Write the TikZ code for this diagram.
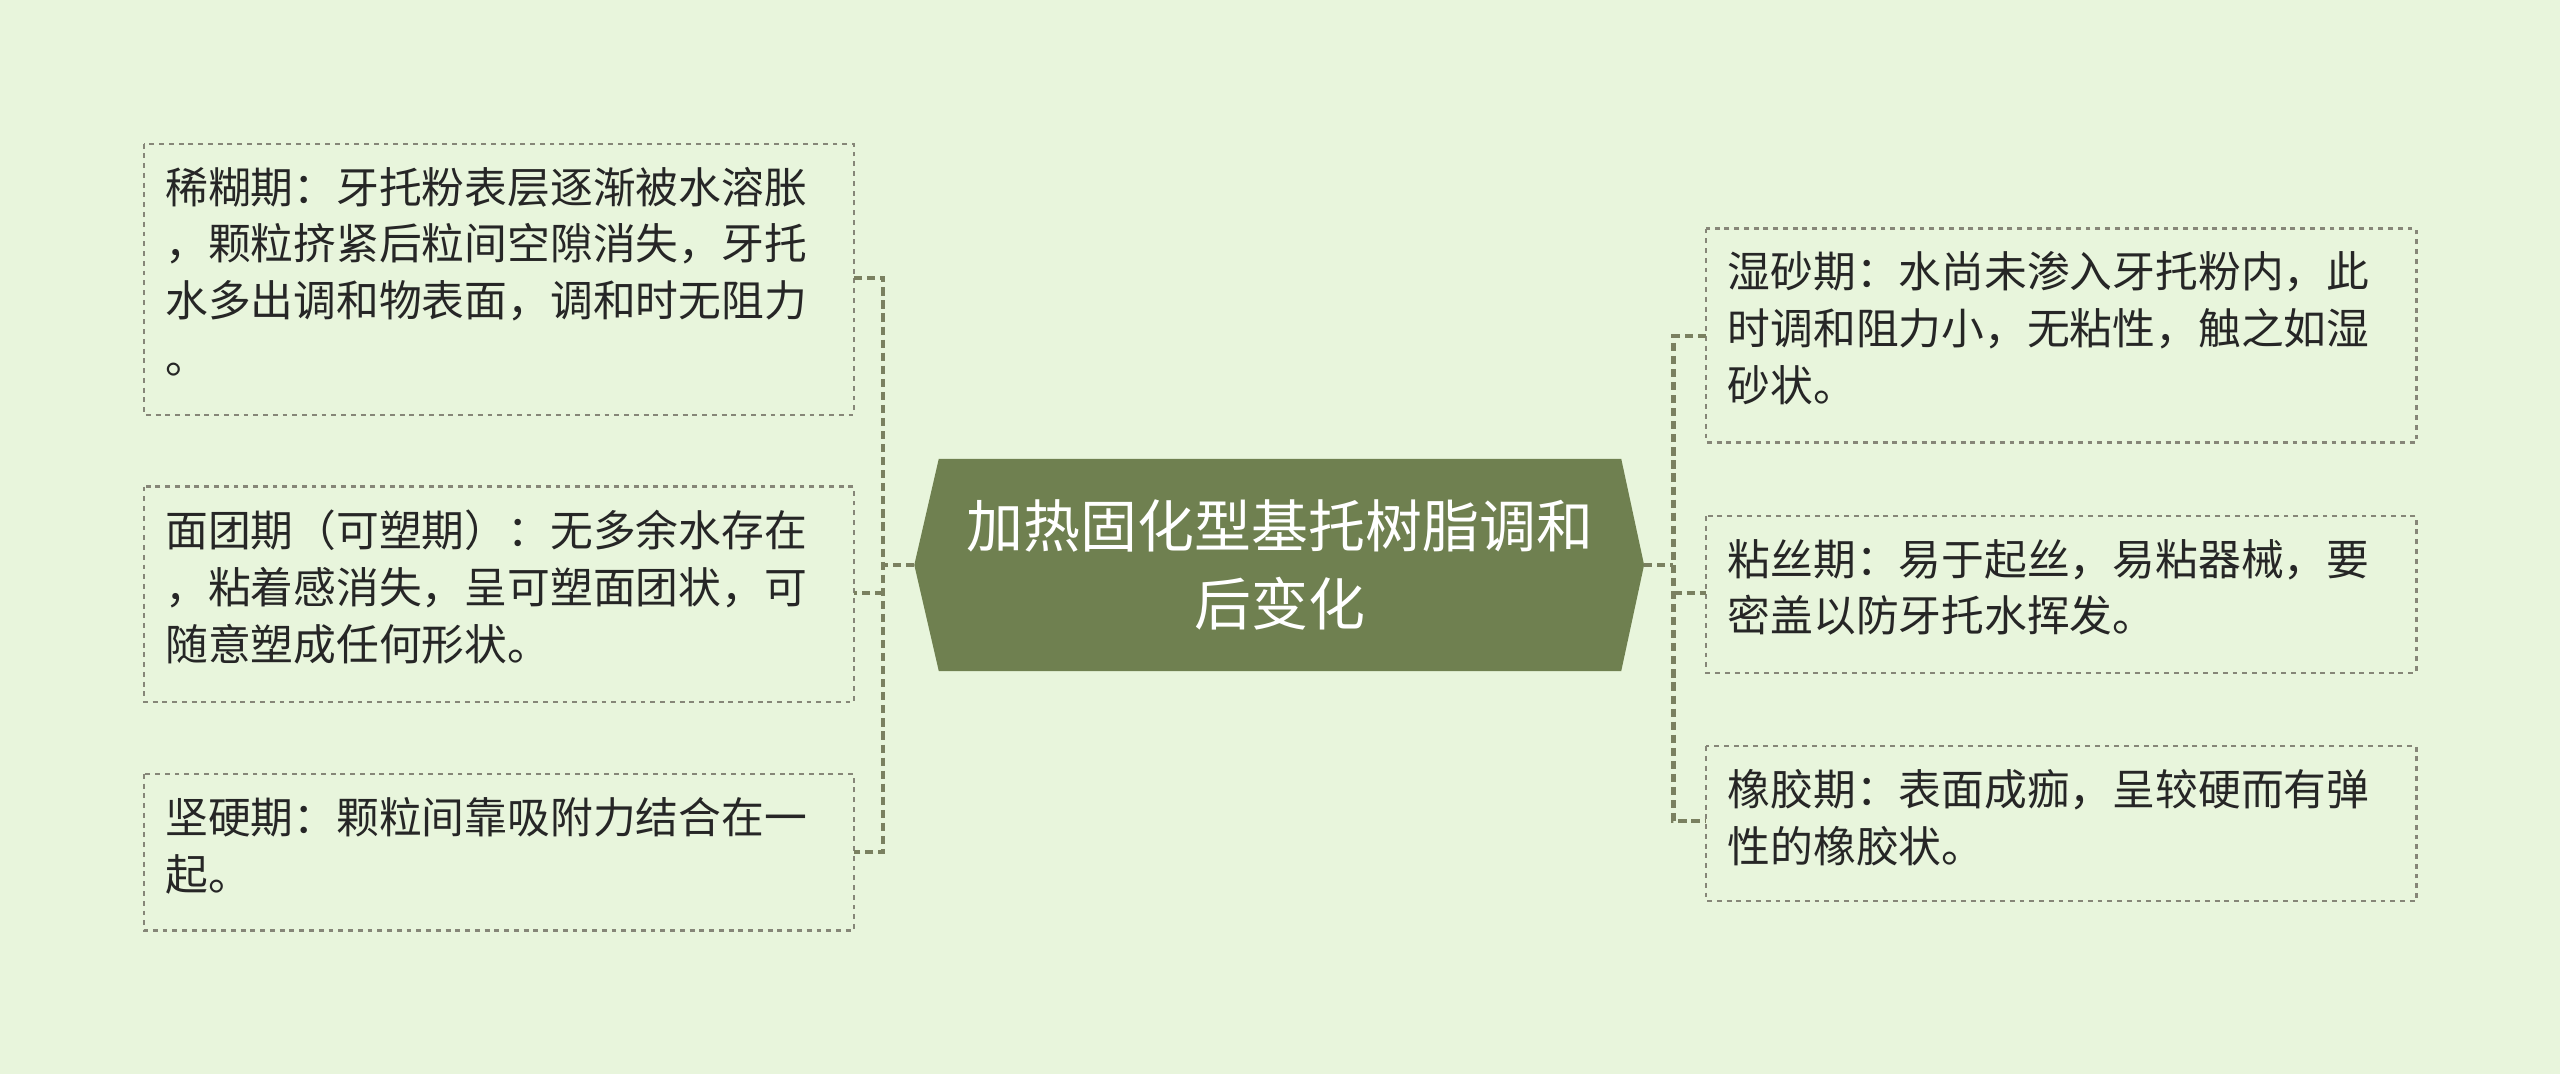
\documentclass[tikz,border=0pt]{standalone}
\usepackage{fontspec}
\newfontfamily\cjk{Noto Sans CJK SC}
\definecolor{bg}{HTML}{E8F5DC}
\definecolor{hub}{HTML}{6F8050}
\definecolor{ln}{HTML}{7A8060}
\definecolor{bd}{HTML}{868678}
\begin{document}
\begin{tikzpicture}[x=1bp,y=-1bp,
  leaf/.style={draw=bd,dashed,line width=1.4bp},
  txt/.style={anchor=north west,inner sep=0,align=left,font=\cjk\fontsize{26.3}{35}\selectfont,text=black!85},
  conn/.style={draw=ln,line width=2.5bp,dash pattern=on 5bp off 3bp}]
\fill[bg] (0,0) rectangle (1568,658);
\useasboundingbox (0,0) rectangle (1568,658);
% hub
\fill[hub] (560,346) -- (575,281) -- (993,281) -- (1007,346) -- (993,411) -- (575,411) -- cycle;
\node[font=\cjk\fontsize{35}{48}\selectfont,text=white,align=center] (hub) at (784,346) {加热固化型基托树脂调和\\后变化};
\coordinate (L) at (560,346); \coordinate (R) at (1007,346);
% left boxes
\draw[leaf] (88,88) rectangle (523,254); \coordinate (l1) at (523,170);
\draw[leaf] (88,298) rectangle (523,430); \coordinate (l2) at (523,363);
\draw[leaf] (88,474) rectangle (523,570); \coordinate (l3) at (523,522);
\node[txt] (t1) at (101,102) {稀糊期：牙托粉表层逐渐被水溶胀\\，颗粒挤紧后粒间空隙消失，牙托\\水多出调和物表面，调和时无阻力\\。};
\node[txt] (t2) at (101,312) {面团期（可塑期）：无多余水存在\\，粘着感消失，呈可塑面团状，可\\随意塑成任何形状。};
\node[txt] (t3) at (101,488) {坚硬期：颗粒间靠吸附力结合在一\\起。};
% right boxes
\draw[leaf] (1045,140) rectangle (1480,271); \coordinate (r1) at (1045,206);
\draw[leaf] (1045,316) rectangle (1480,412); \coordinate (r2) at (1045,363);
\draw[leaf] (1045,457) rectangle (1480,552); \coordinate (r3) at (1045,503);
\node[txt] (u1) at (1058,154) {湿砂期：水尚未渗入牙托粉内，此\\时调和阻力小，无粘性，触之如湿\\砂状。};
\node[txt] (u2) at (1058,330) {粘丝期：易于起丝，易粘器械，要\\密盖以防牙托水挥发。};
\node[txt] (u3) at (1058,471) {橡胶期：表面成痂，呈较硬而有弹\\性的橡胶状。};
% connectors
\draw[conn] (L) -- (541,346);
\draw[conn] (l1) -- (541,170) -- (541,522) -- (l3);
\draw[conn] (541,363) -- (l2);
\draw[conn] (R) -- (1025,346);
\draw[conn] (r1) -- (1025,206) -- (1025,503) -- (r3);
\draw[conn] (1025,363) -- (r2);
\end{tikzpicture}
\end{document}
